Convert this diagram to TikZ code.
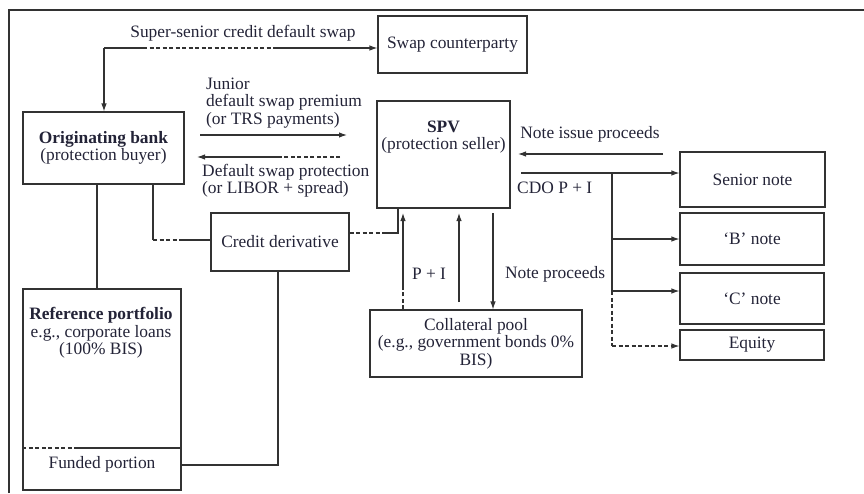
\documentclass[tikz,border=0pt]{standalone}
\usepackage{fontspec}
\setmainfont{Liberation Serif}
\usetikzlibrary{arrows.meta}
\definecolor{ink}{RGB}{35,35,55}
\definecolor{ln}{RGB}{50,50,50}
\begin{document}
\begin{tikzpicture}[x=1pt,y=-1pt,
 every node/.style={font=\fontsize{17.4}{17.4}\selectfont, text=ink},
 box/.style={draw=ln, line width=1.1pt, rectangle, inner sep=0pt, align=center},
 lbl/.style={inner sep=0pt, align=left},
 con/.style={draw=ln, line width=1.1pt},
 arr/.style={con, -{Latex[length=8pt,width=5.5pt]}},
 dsh/.style={con, dash pattern=on 4pt off 2.5pt}]
\useasboundingbox (0,0) rectangle (864,493);
\draw[con] (9,493) -- (9,10) -- (864,10);
% boxes
\node[box, minimum width=149pt, minimum height=57pt] (swap) at (452.5,44.5) {Swap counterparty};
\node[box, minimum width=161pt, minimum height=72pt] (orig) at (103.5,148) {\textbf{Originating bank}\\(protection buyer)};
\node[box, minimum width=133pt, minimum height=107pt] (spv) at (443.5,154.5) {};
\node[lbl, align=center] (spvt) at (443.5,137) {\textbf{SPV}\\(protection seller)};
\node[box, minimum width=145pt, minimum height=55pt] (senior) at (752.5,179.5) {Senior note};
\node[box, minimum width=144pt, minimum height=52pt] (bnote) at (752,239) {‘B’ note};
\node[box, minimum width=144pt, minimum height=51pt] (cnote) at (752,298.5) {‘C’ note};
\node[box, minimum width=144pt, minimum height=30pt] (equity) at (752,345) {Equity};
\node[box, minimum width=212pt, minimum height=67pt] (coll) at (476,343.5) {Collateral pool\\(e.g., government bonds 0\%\\BIS)};
\node[box, minimum width=138pt, minimum height=58pt] (cd) at (280,242) {Credit derivative};
\node[box, minimum width=158pt, minimum height=201pt] (ref) at (102,389.5) {};
\node[lbl, align=center] (reft) at (101,333) {\textbf{Reference portfolio}\\e.g., corporate loans\\(100\% BIS)};
\node[lbl] (fund) at (102,464) {Funded portion};
\coordinate (fd) at (75,448);
\draw[dsh] (ref.west |- fd) -- (fd);
\draw[con] (fd) -- (ref.east |- fd);
% super-senior
\coordinate (ssc) at (104,48); \coordinate (ss1) at (143,48); \coordinate (ss2) at (277,48);
\draw[con] (ss1) -- (ssc);
\draw[arr] (ssc) -- (ssc |- orig.north);
\draw[dsh] (ss1) -- (ss2);
\draw[arr] (ss2) -- (ssc -| swap.west);
\node[lbl] (sslab) at (243,33) {Super-senior credit default swap};
% junior
\coordinate (j1) at (200,135); \coordinate (j2) at (347,135);
\draw[arr] (j1) -- (j2);
\node[lbl, anchor=west] (jlab) at (206,103) {Junior\\default swap premium\\(or TRS payments)};
% default protection
\coordinate (d1) at (340,157); \coordinate (d2) at (280,157); \coordinate (d3) at (197,157);
\draw[dsh] (d1) -- (d2);
\draw[arr] (d2) -- (d3);
\node[lbl, anchor=west] (dlab) at (202,181) {Default swap protection\\(or LIBOR + spread)};
% orig to ref
\coordinate (c4) at (97,240);
\draw[con] (c4 |- orig.south) -- (c4 |- ref.north);
% orig to cd
\coordinate (c5) at (153,240); \coordinate (c5b) at (182,240);
\draw[con] (c5 |- orig.south) -- (c5);
\draw[dsh] (c5) -- (c5b);
\draw[con] (c5b) -- (c5b -| cd.west);
% cd to spv
\coordinate (c6) at (398,233); \coordinate (c6b) at (382,233);
\draw[dsh] (c6b -| cd.east) -- (c6b);
\draw[con] (c6b) -- (c6) -- (c6 |- spv.south);
% funded to cd
\coordinate (c7) at (278,465);
\draw[con] (ref.east |- c7) -- (c7) -- (c7 |- cd.south);
% P + I
\coordinate (p1) at (403,290); \coordinate (p2) at (403,213);
\draw[dsh] (p1 |- coll.north) -- (p1);
\draw[arr] (p1) -- (p2);
\node[lbl] (pilab) at (429,274) {P + I};
\coordinate (q1) at (459,302); \coordinate (q2) at (459,213);
\draw[arr] (q1) -- (q2);
\coordinate (n1) at (493,213);
\draw[arr] (n1) -- (n1 |- coll.north);
\node[lbl] (nplab) at (555,274) {Note proceeds};
% note issue proceeds
\coordinate (ni1) at (663,154); \coordinate (ni2) at (518,154);
\draw[arr] (ni1) -- (ni2);
\node[lbl] (nilab) at (590,134) {Note issue proceeds};
% CDO P + I
\coordinate (cd1) at (521,173); \coordinate (br) at (612,173);
\coordinate (bb) at (612,239); \coordinate (cc) at (612,291); \coordinate (ee) at (612,346);
\draw[arr] (cd1) -- (cd1 -| senior.west);
\draw[con] (br) -- (cc);
\draw[arr] (bb) -- (bb -| bnote.west);
\draw[arr] (cc) -- (cc -| cnote.west);
\draw[dsh] (cc) -- (ee);
\draw[dsh, -{Latex[length=8pt,width=5.5pt]}] (ee) -- (ee -| equity.west);
\node[lbl, anchor=west] (cdolab) at (517,188) {CDO P + I};
\end{tikzpicture}
\end{document}
